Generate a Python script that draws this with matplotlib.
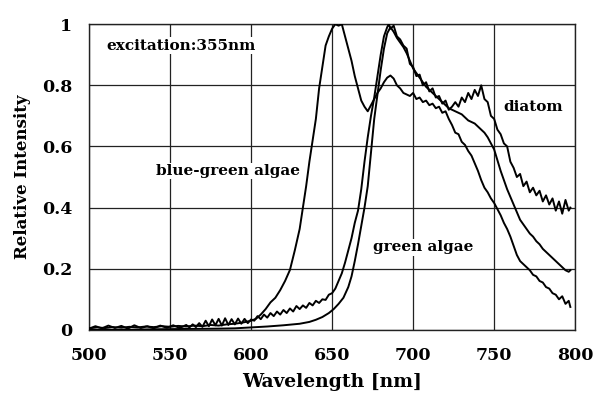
import matplotlib
matplotlib.use("Agg")
import matplotlib.pyplot as plt

# wavelength [nm] / relative intensity
bg_x = [500, 505, 510, 515, 520, 525, 530, 535, 540, 545, 550, 555, 560, 565, 570, 575, 580, 585, 590, 595, 600,
        603, 606, 609, 612, 615, 618, 621, 624, 627, 630, 632, 634, 636, 638, 640, 642, 644, 646, 648, 650,
        652, 654, 656, 658, 660, 662, 664, 666, 668, 670, 672, 674, 676, 678, 680, 682, 684, 686, 688, 690,
        692, 694, 696, 698, 700, 702, 704, 706, 708, 710, 712, 714, 716, 718, 720, 722, 724, 726, 728, 730,
        732, 734, 736, 738, 740, 742, 744, 746, 748, 750, 752, 754, 756, 758, 760, 762, 764, 766, 768, 770,
        772, 774, 776, 778, 780, 782, 784, 786, 788, 790, 792, 794, 796, 797]
bg_y = [0.005, 0.008, 0.006, 0.009, 0.007, 0.010, 0.008, 0.011, 0.009, 0.012, 0.010, 0.013, 0.011, 0.014, 0.012,
        0.016, 0.014, 0.018, 0.020, 0.024, 0.030,
        0.036, 0.050, 0.068, 0.090, 0.105, 0.13, 0.16, 0.196, 0.26, 0.33, 0.40, 0.47, 0.55, 0.62, 0.69, 0.79,
        0.86, 0.93, 0.96, 0.985, 1.0, 0.995, 1.0, 0.96, 0.92, 0.88, 0.83, 0.79, 0.75, 0.73, 0.715, 0.735,
        0.755, 0.775, 0.79, 0.81, 0.825, 0.832, 0.822, 0.80, 0.79, 0.775, 0.77, 0.765, 0.775, 0.755, 0.76,
        0.745, 0.75, 0.735, 0.74, 0.725, 0.73, 0.71, 0.715, 0.69, 0.67, 0.645, 0.64, 0.615, 0.605, 0.585,
        0.57, 0.545, 0.52, 0.49, 0.465, 0.45, 0.43, 0.415, 0.395, 0.375, 0.35, 0.33, 0.305, 0.275, 0.245,
        0.225, 0.215, 0.205, 0.195, 0.18, 0.175, 0.16, 0.155, 0.14, 0.135, 0.12, 0.115, 0.10, 0.11, 0.085,
        0.095, 0.075]

ga_x = [500, 520, 540, 560, 580, 590, 600, 610, 620, 630, 636, 640, 644, 648, 651, 654, 657, 660, 662, 664,
        666, 668, 670, 672, 674, 676, 678, 680, 682, 684, 686, 688, 690, 692, 694, 696, 698, 700, 702, 704,
        706, 708, 710, 712, 714, 716, 718, 720, 722, 724, 726, 728, 730, 732, 734, 736, 738, 740, 742, 744,
        746, 748, 750, 752, 754, 756, 758, 760, 762, 764, 766, 768, 770, 772, 774, 776, 778, 780, 782, 784,
        786, 788, 790, 792, 794, 796, 797]
ga_y = [0.0, 0.0, 0.002, 0.003, 0.004, 0.005, 0.008, 0.011, 0.015, 0.02, 0.026, 0.033, 0.042, 0.055, 0.068,
        0.085, 0.105, 0.14, 0.175, 0.225, 0.28, 0.34, 0.40, 0.47, 0.58, 0.69, 0.77, 0.85, 0.92, 0.97, 0.99,
        0.975, 0.955, 0.94, 0.925, 0.905, 0.88, 0.855, 0.84, 0.825, 0.81, 0.795, 0.785, 0.775, 0.765, 0.755,
        0.745, 0.735, 0.725, 0.72, 0.715, 0.71, 0.705, 0.695, 0.685, 0.68, 0.675, 0.665, 0.655, 0.645, 0.63,
        0.61, 0.59, 0.555, 0.52, 0.49, 0.46, 0.435, 0.41, 0.385, 0.36, 0.345, 0.33, 0.315, 0.305, 0.29, 0.28,
        0.265, 0.255, 0.245, 0.235, 0.225, 0.215, 0.205, 0.195, 0.19, 0.195]

dt_x = [500, 504, 508, 512, 516, 520, 524, 528, 532, 536, 540, 544, 548, 552, 556, 560, 562, 564, 566, 568,
        570, 572, 574, 576, 578, 580, 582, 584, 586, 588, 590, 592, 594, 596, 598, 600,
        602, 604, 606, 608, 610, 612, 614, 616, 618, 620, 622, 624, 626, 628, 630, 632, 634, 636, 638, 640,
        642, 644, 646, 648, 650, 652, 654, 656, 658, 660, 662, 664, 666, 668, 670, 672, 674, 676, 678, 680,
        682, 684, 685, 686, 688, 690, 692, 694, 696, 698, 700, 702, 704, 706, 708, 710, 712, 714, 716, 718,
        720, 722, 724, 726, 728, 730, 732, 734, 736, 738, 740, 742, 744, 746, 748, 750, 752, 754, 756, 758,
        760, 762, 764, 766, 768, 770, 772, 774, 776, 778, 780, 782, 784, 786, 788, 790, 792, 794, 796, 797]
dt_y = [0.004, 0.012, 0.005, 0.014, 0.006, 0.013, 0.004, 0.015, 0.006, 0.012, 0.005, 0.014, 0.007, 0.015,
        0.006, 0.016, 0.008, 0.018, 0.009, 0.022, 0.010, 0.030, 0.012, 0.034, 0.015, 0.036, 0.014, 0.038,
        0.016, 0.035, 0.018, 0.037, 0.020, 0.036, 0.022, 0.034,
        0.03, 0.045, 0.035, 0.05, 0.04, 0.055, 0.045, 0.06, 0.05, 0.065, 0.055, 0.07, 0.06, 0.078, 0.068,
        0.08, 0.072, 0.088, 0.08, 0.095, 0.088, 0.10, 0.098, 0.115, 0.12, 0.135, 0.16, 0.185, 0.22, 0.26,
        0.30, 0.35, 0.39, 0.46, 0.55, 0.63, 0.70, 0.76, 0.83, 0.90, 0.96, 0.99, 1.0, 0.985, 0.995, 0.96,
        0.95, 0.93, 0.92, 0.87, 0.86, 0.83, 0.835, 0.80, 0.81, 0.78, 0.79, 0.76, 0.765, 0.74, 0.75, 0.72,
        0.73, 0.745, 0.73, 0.76, 0.745, 0.775, 0.755, 0.785, 0.765, 0.80, 0.755, 0.745, 0.70, 0.69, 0.655,
        0.64, 0.61, 0.60, 0.55, 0.53, 0.50, 0.51, 0.47, 0.485, 0.45, 0.465, 0.44, 0.455, 0.42, 0.44, 0.41,
        0.43, 0.39, 0.42, 0.38, 0.425, 0.39, 0.40]

xticks = [500, 550, 600, 650, 700, 750, 800]
yticks = [0, 0.2, 0.4, 0.6, 0.8, 1]
ytick_labels = ["0", "0.2", "0.4", "0.6", "0.8", "1"]

plt.rcParams['font.family'] = 'DejaVu Serif'
plt.rcParams['font.weight'] = 'bold'

fig = plt.figure(figsize=(5.93, 3.96), dpi=100)
ax = fig.add_subplot(111)
fig.subplots_adjust(left=0.150, right=0.970, bottom=0.167, top=0.939)

for xs, ys in [(bg_x, bg_y), (ga_x, ga_y), (dt_x, dt_y)]:
    ax.plot(xs, ys, color='black', lw=1.4, zorder=3)

ax.set_xlim(500, 800)
ax.set_ylim(0, 1)
ax.set_xticks(xticks)
ax.set_yticks(yticks)
ax.set_yticklabels(ytick_labels)
ax.grid(True, color='#222222', lw=0.9)
ax.tick_params(length=0, labelsize=12.5)
ax.tick_params(axis='x', pad=12)
ax.tick_params(axis='y', pad=12)
for s in ax.spines.values():
    s.set_color('#222222')
    s.set_linewidth(1.0)

ax.set_xlabel('Wavelength [nm]', fontsize=13.5, fontweight='bold', labelpad=7)
ax.set_ylabel('Relative Intensity', fontsize=12, fontweight='bold', labelpad=8)

box = dict(facecolor='white', edgecolor='none', pad=1)
ax.text(511, 0.93, 'excitation:355nm', fontsize=11, va='center', bbox=box, zorder=4)
ax.text(541.5, 0.52, 'blue-green algae', fontsize=11, va='center', bbox=box, zorder=4)
ax.text(675.5, 0.27, 'green algae', fontsize=11, va='center', bbox=box, zorder=4)
ax.text(755.5, 0.73, 'diatom', fontsize=11, va='center', bbox=box, zorder=4)

fig.savefig('out.png', dpi=100)
